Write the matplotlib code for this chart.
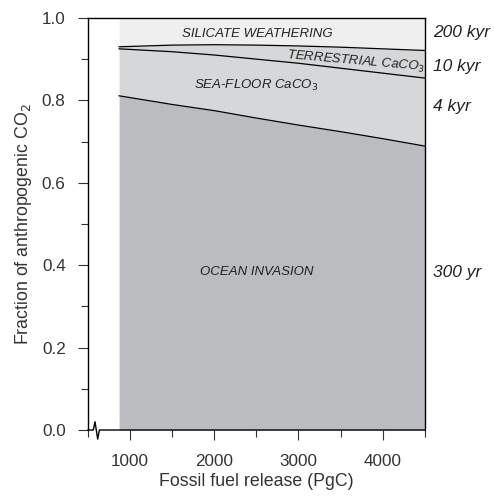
import numpy as np
import matplotlib.pyplot as plt
from matplotlib.ticker import MultipleLocator

# fossil fuel release (PgC) and cumulative fractions
release = [870, 1500, 2000, 2500, 3000, 3500, 4000, 4500]
ocean = [0.811, 0.790, 0.775, 0.757, 0.740, 0.724, 0.707, 0.689]
seafloor = [0.925, 0.918, 0.910, 0.900, 0.890, 0.878, 0.866, 0.854]
terrestrial = [0.930, 0.934, 0.935, 0.934, 0.932, 0.929, 0.925, 0.921]
silicate = [1.0] * len(release)

timescales = ['200 kyr', '10 kyr', '4 kyr', '300 yr']
timescale_y = [0.965, 0.883, 0.786, 0.383]

plt.rcParams['font.family'] = ['Liberation Sans', 'DejaVu Sans']

fig = plt.figure(figsize=(4.94, 4.98), dpi=100)
ax = fig.add_axes([0.178, 0.1365, 0.682, 0.8275])

ax.fill_between(release, 0, ocean, color='#bbbcbf', lw=0)
ax.fill_between(release, ocean, terrestrial, color='#d6d7d9', lw=0)
ax.fill_between(release, terrestrial, silicate, color='#efeff0', lw=0)
ax.plot(release, ocean, color='black', lw=0.9)
ax.plot(release, seafloor, color='black', lw=0.9)
ax.plot(release, terrestrial, color='black', lw=0.9)

ax.set_xlim(500, 4500)
ax.set_ylim(0, 1)
ax.xaxis.set_minor_locator(MultipleLocator(500))
ax.yaxis.set_minor_locator(MultipleLocator(0.1))
ax.set_xticks([1000, 2000, 3000, 4000])
ax.set_xticklabels(['1000', '2000', '3000', '4000'])
ax.set_yticks([0, 0.2, 0.4, 0.6, 0.8, 1.0])
ax.set_yticklabels(['0.0', '0.2', '0.4', '0.6', '0.8', '1.0'])
ax.tick_params(which='both', direction='out', labelsize=12.3, color='#333333', labelcolor='#333333')
ax.tick_params(which='major', length=7, width=0.8)
ax.tick_params(which='minor', length=5, width=0.8)
ax.tick_params(axis='x', which='both', pad=10)
ax.tick_params(axis='y', which='both', pad=9)

for s in ax.spines.values():
    s.set_linewidth(1.0)
ax.spines['bottom'].set_visible(False)

# bottom axis line with break mark
bx = [0, 0.016, 0.021, 0.029, 0.034, 1.0]
by = [0, 0, 0.02, -0.022, 0, 0]
ax.plot(bx, by, transform=ax.transAxes, color='black', lw=1.0, clip_on=False, zorder=5)

ax.set_xlabel('Fossil fuel release (PgC)', fontsize=12.8, color='#333333', labelpad=3)
ax.set_ylabel('Fraction of anthropogenic CO$_2$', fontsize=12.8, color='#333333', labelpad=6)

ax.text(2510, 0.962, 'SILICATE WEATHERING', fontsize=9.5, style='italic', ha='center', va='center', color='#222222')
ax.text(3680, 0.894, 'TERRESTRIAL CaCO$_3$', fontsize=9.5, style='italic', ha='center', va='center',
        rotation=-5, color='#222222')
ax.text(2500, 0.837, 'SEA-FLOOR CaCO$_3$', fontsize=9.5, style='italic', ha='center', va='center', color='#222222')
ax.text(2500, 0.383, 'OCEAN INVASION', fontsize=9.5, style='italic', ha='center', va='center', color='#222222')

for lab, y in zip(timescales, timescale_y):
    ax.text(1.025, y, lab, transform=ax.get_yaxis_transform(), fontsize=12.5, style='italic',
            ha='left', va='center', color='#222222')

fig.savefig('out.png', dpi=100)
